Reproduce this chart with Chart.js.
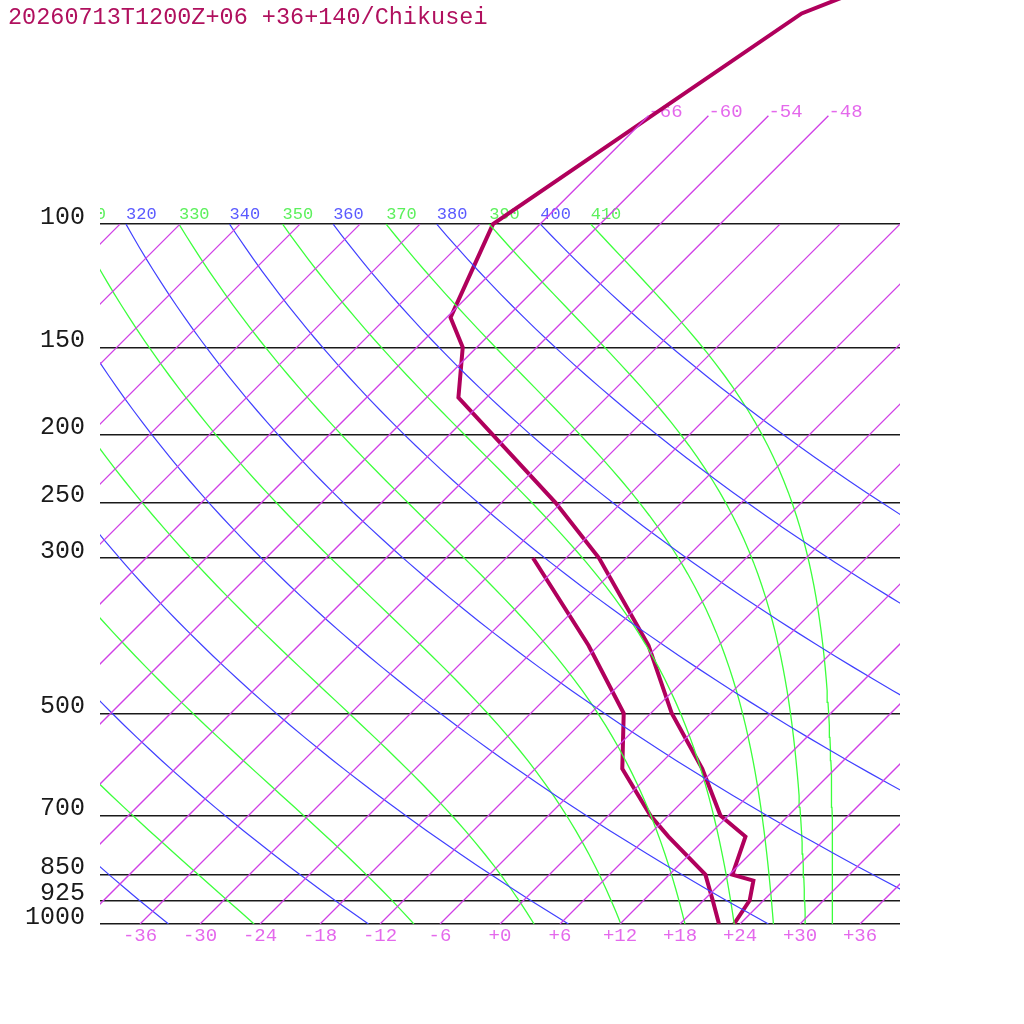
<!DOCTYPE html>
<html>
<head>
<meta charset="utf-8">
<script src="https://cdn.jsdelivr.net/npm/chart.js@4.4.1/dist/chart.umd.min.js"></script>
<style>
  html, body { margin: 0; padding: 0; background: #fff; }
  canvas { display: block; }
</style>
</head>
<body>
<canvas id="skewT" width="1024" height="1024"></canvas>
<script>
// sounding (hPa, degC)
const tempP = [1000, 925, 867, 850, 750, 700, 600, 500, 400, 300, 250, 177, 150, 136, 100, 50, 40];
const tempC = [23.4, 22.6, 21.0, 18.3, 15.8, 11.2, 4.7, -3.9, -13.0, -26.7, -36.6, -56.8, -61.4, -65.6, -70.7, -60.9, -50.4];
const dewP = [1000, 925, 850, 750, 700, 600, 500, 400, 300];
const dewC = [21.9, 18.9, 15.6, 8.1, 4.2, -3.3, -8.7, -19.0, -33.3];

// axis ticks and background line families
const pressureTicks = [1000, 925, 850, 700, 500, 300, 250, 200, 150, 100];
const tempTicks = [-36, -30, -24, -18, -12, -6, 0, 6, 12, 18, 24, 30, 36];
const isotherms = [-108, -102, -96, -90, -84, -78, -72, -66, -60, -54, -48, -42, -36, -30, -24, -18, -12, -6, 0, 6, 12, 18, 24, 30, 36];
const upperIsotherms = [-66, -60, -54, -48];
const dryThetas = [240, 260, 280, 300, 320, 340, 360, 380, 400];
const moistThetaEs = [250, 270, 290, 310, 330, 350, 370, 390, 410];

const titleText = "20260713T1200Z+06 +36+140/Chikusei";

const P_TOP = 47.84;   // pressure at the top edge of the plot
const P_ISO_TOP = 70;
const SKEW = 30.4;     // 45 degree skew

const PROFILE = "#b0005c";
const ISO = "#d040e6";
const DRY = "#4040ff";
const MOIST = "#3cff3c";

function skewX(t, p) { return t + SKEW * Math.log(1000 / p); }

function thetaESat(tc, p) {
  const tk = tc + 273.15;
  const es = 6.112 * Math.exp(17.67 * tc / (tc + 243.5));
  const r = 0.622 * es / (p - es);
  const th = tk * Math.pow(1000 / p, 0.2854 * (1 - 0.28 * r));
  return th * Math.exp((3.376 / tk - 0.00254) * r * 1000 * (1 + 0.81 * r));
}
function moistT(te, p) {
  let lo = -170, hi = 45;
  for (let i = 0; i < 50; i++) {
    const mid = (lo + hi) / 2;
    if (thetaESat(mid, p) > te) hi = mid; else lo = mid;
  }
  return (lo + hi) / 2;
}
function dryT(th, p) { return th * Math.pow(p / 1000, 0.2857) - 273.15; }

// pressure sampling for the curved lines
const samples = [];
for (let i = 0; i <= 60; i++) samples.push(1000 * Math.pow(0.1, i / 60));

function lineSet(data, color, width) {
  return { data, borderColor: color, borderWidth: width, showLine: true, pointRadius: 0, tension: 0, fill: false };
}

const datasets = [];
isotherms.forEach(t => {
  const top = upperIsotherms.includes(t) ? P_ISO_TOP : 100;
  datasets.push(lineSet([{ x: skewX(t, 1000), y: 1000 }, { x: skewX(t, top), y: top }], ISO, 1.3));
});
dryThetas.forEach(th => {
  datasets.push(lineSet(samples.map(p => ({ x: skewX(dryT(th, p), p), y: p })), DRY, 1.2));
});
moistThetaEs.forEach(te => {
  datasets.push(lineSet(samples.map(p => ({ x: skewX(moistT(te, p), p), y: p })), MOIST, 1.3));
});
datasets.push(lineSet(tempP.map((p, i) => ({ x: skewX(tempC[i], p), y: p })), PROFILE, 4));
datasets.push(lineSet(dewP.map((p, i) => ({ x: skewX(dewC[i], p), y: p })), PROFILE, 4));

function signed(v) { return v > 0 ? "+" + v : (v < 0 ? "-" + (-v) : "+0"); }

const labels = {
  id: "skewLabels",
  beforeDatasetsDraw(chart) {
    const { ctx, chartArea, scales: { x, y } } = chart;
    ctx.save();
    ctx.textAlign = "left";
    ctx.textBaseline = "alphabetic";
    // isotherm labels at their top ends
    ctx.font = '19px "Liberation Mono", monospace';
    ctx.fillStyle = "#e468ec";
    upperIsotherms.forEach(t => {
      ctx.fillText(signed(t), x.getPixelForValue(skewX(t, P_ISO_TOP)), y.getPixelForValue(P_ISO_TOP) + 1);
    });
    // adiabat labels on the 100 hPa line
    ctx.beginPath();
    ctx.rect(chartArea.left, 0, chartArea.width, chartArea.bottom);
    ctx.clip();
    ctx.font = '17px "Liberation Mono", monospace';
    const yl = y.getPixelForValue(100) - 5;
    ctx.fillStyle = "#5a5aff";
    dryThetas.forEach(th => ctx.fillText(String(th), x.getPixelForValue(skewX(dryT(th, 100), 100)), yl));
    ctx.fillStyle = "#5cf05c";
    moistThetaEs.forEach(te => ctx.fillText(String(te), x.getPixelForValue(skewX(moistT(te, 100), 100)), yl));
    ctx.restore();
  },
  afterDraw(chart) {
    const ctx = chart.ctx;
    ctx.save();
    ctx.font = '23.5px "Liberation Mono", monospace';
    ctx.fillStyle = "#b0105e";
    ctx.textAlign = "left";
    ctx.textBaseline = "alphabetic";
    ctx.fillText(titleText, 8, 24);
    ctx.restore();
  }
};

new Chart(document.getElementById("skewT"), {
  type: "scatter",
  data: { datasets },
  plugins: [labels],
  options: {
    responsive: false,
    animation: false,
    layout: { padding: { left: 0, right: 124, top: 0, bottom: 0 } },
    plugins: { legend: { display: false }, tooltip: { enabled: false } },
    scales: {
      x: {
        type: "linear",
        min: -40,
        max: 40,
        grid: { display: false, drawTicks: false },
        border: { display: false },
        afterBuildTicks: s => { s.ticks = tempTicks.map(v => ({ value: v })); },
        afterFit: s => { s.height = 100; s.paddingLeft = 0; s.paddingRight = 0; },
        ticks: {
          color: "#e468ec",
          font: { family: "Liberation Mono", size: 19 },
          padding: 1,
          maxRotation: 0,
          autoSkip: false,
          callback: v => signed(v)
        }
      },
      y: {
        type: "logarithmic",
        min: P_TOP,
        max: 1000,
        reverse: true,
        grid: { color: "#1a1a1a", lineWidth: 1.5, drawTicks: false },
        border: { display: false },
        afterBuildTicks: s => { s.ticks = pressureTicks.map(v => ({ value: v })); },
        afterFit: s => { s.width = 100; s.paddingTop = 0; s.paddingBottom = 0; },
        ticks: {
          color: "#1a1a1a",
          font: { family: "Liberation Mono", size: 25 },
          padding: 15,
          labelOffset: -7,
          autoSkip: false,
          callback: v => String(v)
        }
      }
    }
  }
});
</script>
</body>
</html>
